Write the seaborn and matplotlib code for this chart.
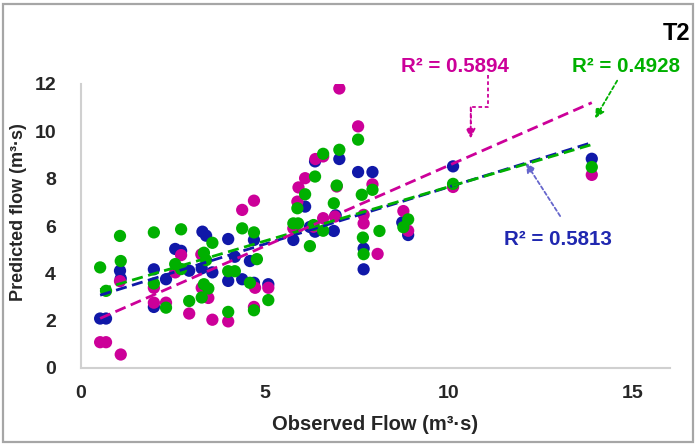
import matplotlib
matplotlib.use("Agg")
import matplotlib.pyplot as plt
import seaborn as sns
from matplotlib.patches import Rectangle

# ---- data ----
blue_obs = [0.52, 0.68, 1.06, 1.08, 1.98, 1.98, 2.31, 2.56, 2.72, 2.94, 3.30, 3.40, 3.28, 3.57,
            4.00, 4.00, 4.18, 4.38, 4.59, 4.70, 4.70, 5.09, 5.77, 6.09, 6.22, 6.36, 6.36, 6.87,
            6.92, 7.02, 7.53, 7.68, 7.68, 7.92, 8.73, 8.89, 10.11, 13.88]
blue_pred = [2.09, 2.09, 4.11, 3.78, 4.17, 2.58, 3.75, 5.03, 4.95, 4.11, 5.76, 5.59, 4.21, 4.04,
             5.45, 3.68, 4.70, 3.75, 4.52, 5.41, 3.60, 3.54, 5.41, 6.82, 5.96, 5.76, 8.73, 5.79,
             6.45, 8.83, 8.28, 5.05, 4.17, 8.28, 6.15, 5.62, 8.52, 8.84]

green_obs = [0.52, 0.68, 1.06, 1.08, 1.98, 1.98, 2.31, 2.56, 2.72, 2.72, 2.94, 3.34, 3.40, 3.34,
             3.46, 3.28, 3.57, 4.00, 4.18, 4.00, 4.38, 4.59, 4.70, 4.78, 4.70, 5.09, 5.77, 5.90,
             5.88, 6.09, 6.22, 6.36, 6.32, 6.58, 6.58, 6.87, 6.95, 7.02, 7.53, 7.63, 7.66, 7.68,
             7.92, 8.11, 8.76, 8.89, 10.11, 13.88]
green_pred = [4.25, 3.26, 5.58, 4.52, 5.73, 3.57, 2.55, 4.39, 5.86, 4.18, 2.83, 4.87, 4.56, 3.54,
              3.36, 2.98, 5.29, 4.09, 4.09, 2.37, 5.90, 3.60, 5.73, 4.60, 2.44, 2.87, 6.11, 6.11,
              6.75, 7.34, 5.15, 8.09, 6.04, 9.05, 5.80, 6.96, 7.71, 9.22, 9.65, 7.32, 5.51, 4.81,
              7.53, 5.79, 5.95, 6.28, 7.78, 8.49]

magenta_obs = [0.52, 0.68, 1.08, 1.06, 1.98, 1.98, 2.31, 2.56, 2.72, 2.94, 3.27, 3.28, 3.46, 3.57,
               4.00, 4.38, 4.70, 4.73, 4.70, 5.09, 5.77, 5.88, 5.91, 6.09, 6.32, 6.37, 6.58, 6.58,
               6.90, 6.95, 7.02, 7.53, 7.68, 7.68, 7.92, 8.06, 8.76, 8.89, 10.11, 13.88]
magenta_pred = [1.09, 1.09, 0.57, 3.67, 3.39, 2.76, 2.76, 4.04, 4.77, 2.30, 4.80, 3.39, 2.96, 2.04,
                1.97, 6.68, 7.07, 3.39, 2.58, 3.39, 5.90, 7.03, 7.63, 8.02, 5.97, 8.83, 8.94, 6.33,
                6.40, 7.67, 11.81, 10.21, 6.47, 6.11, 7.76, 4.82, 6.63, 5.80, 7.65, 8.16]

r2_labels = ["R² = 0.5813", "R² = 0.4928", "R² = 0.5894"]
x_ticks = [0, 5, 10, 15]
y_ticks = [0, 2, 4, 6, 8, 10, 12]

BLUE = "#1018A8"
GREEN = "#00B000"
MAGENTA = "#CC0099"
BLUE_TXT = "#2028B0"
TXT = "#262626"

sns.set_theme(style="white")
plt.rcParams["font.family"] = ["Liberation Sans", "DejaVu Sans"]

fig = plt.figure(figsize=(6.96, 4.46), dpi=100)
ax = fig.add_axes([81 / 696, 1 - 368 / 446, (16 * 36.8) / 696, 284 / 446])

# outer chart border
fig.patches.append(Rectangle((0.004, 0.008), 0.992, 0.984, transform=fig.transFigure,
                             fill=False, edgecolor="#A6A6A6", linewidth=1.6))

sz = 78
sns.scatterplot(x=blue_obs, y=blue_pred, color=BLUE, s=sz, edgecolor="none", ax=ax, zorder=2)
sns.scatterplot(x=magenta_obs, y=magenta_pred, color=MAGENTA, s=sz, edgecolor="none", ax=ax, zorder=3)
sns.scatterplot(x=green_obs, y=green_pred, color=GREEN, s=sz, edgecolor="none", ax=ax, zorder=4)

dash = (0, (4, 2))
sns.regplot(x=blue_obs, y=blue_pred, scatter=False, ci=None, truncate=True, color=BLUE,
            line_kws=dict(ls=dash, lw=2.0, zorder=5), ax=ax)
sns.regplot(x=green_obs, y=green_pred, scatter=False, ci=None, truncate=True, color=GREEN,
            line_kws=dict(ls=dash, lw=2.0, zorder=6), ax=ax)
sns.regplot(x=magenta_obs, y=magenta_pred, scatter=False, ci=None, truncate=True, color=MAGENTA,
            line_kws=dict(ls=dash, lw=2.0, zorder=6), ax=ax)

ax.set_xlim(0, 16)
ax.set_ylim(0, 12)
ax.set_xticks(x_ticks)
ax.set_yticks(y_ticks)
ax.set_xticklabels([str(v) for v in x_ticks], fontsize=14, fontweight="bold", color=TXT)
ax.set_yticklabels([str(v) for v in y_ticks], fontsize=14, fontweight="bold", color=TXT)
ax.tick_params(axis="x", length=0, pad=12)
ax.tick_params(axis="y", length=0, pad=18)
for s in ["top", "right"]:
    ax.spines[s].set_visible(False)
for s in ["left", "bottom"]:
    ax.spines[s].set_color("#D0D0D0")
    ax.spines[s].set_linewidth(1.5)

ax.set_xlabel("Observed Flow (m³·s)", fontsize=14.5, fontweight="bold", color=TXT)
ax.xaxis.set_label_coords(0.5, -0.165)
ax.set_ylabel("Predicted flow (m³·s)", fontsize=13, fontweight="bold", color=TXT)
ax.yaxis.set_label_coords(-0.092, 0.55)

# R² labels
ax.text(10.15, 12.73, r2_labels[2], color=MAGENTA, fontsize=14.8, fontweight="bold",
        ha="center", va="center", clip_on=False)
ax.text(14.81, 12.73, r2_labels[1], color=GREEN, fontsize=14.8, fontweight="bold",
        ha="center", va="center", clip_on=False)
ax.text(12.95, 5.41, r2_labels[0], color=BLUE_TXT, fontsize=14.8, fontweight="bold",
        ha="center", va="center")

# arrows
ax.plot([11.05, 11.05, 10.59, 10.59], [12.38, 11.01, 11.01, 10.3], color=MAGENTA,
        ls=(0, (2, 1.5)), lw=1.3, clip_on=False)
ax.annotate("", xy=(10.59, 9.70), xytext=(10.59, 11.01),
            arrowprops=dict(arrowstyle="-|>", color=MAGENTA, lw=1.3, ls=(0, (2, 1.5)),
                            mutation_scale=14, shrinkA=0, shrinkB=0), annotation_clip=False)
ax.annotate("", xy=(13.97, 10.55), xytext=(14.57, 12.14),
            arrowprops=dict(arrowstyle="-|>", color=GREEN, lw=1.3, ls=(0, (2, 1.5)),
                            mutation_scale=14, shrinkA=0, shrinkB=0), annotation_clip=False)
ax.annotate("", xy=(12.09, 8.67), xytext=(13.02, 6.42),
            arrowprops=dict(arrowstyle="-|>", color="#6666CC", lw=1.3, ls=(0, (2, 1.5)),
                            mutation_scale=14, shrinkA=0, shrinkB=0), annotation_clip=False)

fig.text(690 / 696, 1 - 33 / 446, "T2", fontsize=17, fontweight="bold", color="black",
         ha="right", va="center")

fig.savefig("out.png", dpi=100)
